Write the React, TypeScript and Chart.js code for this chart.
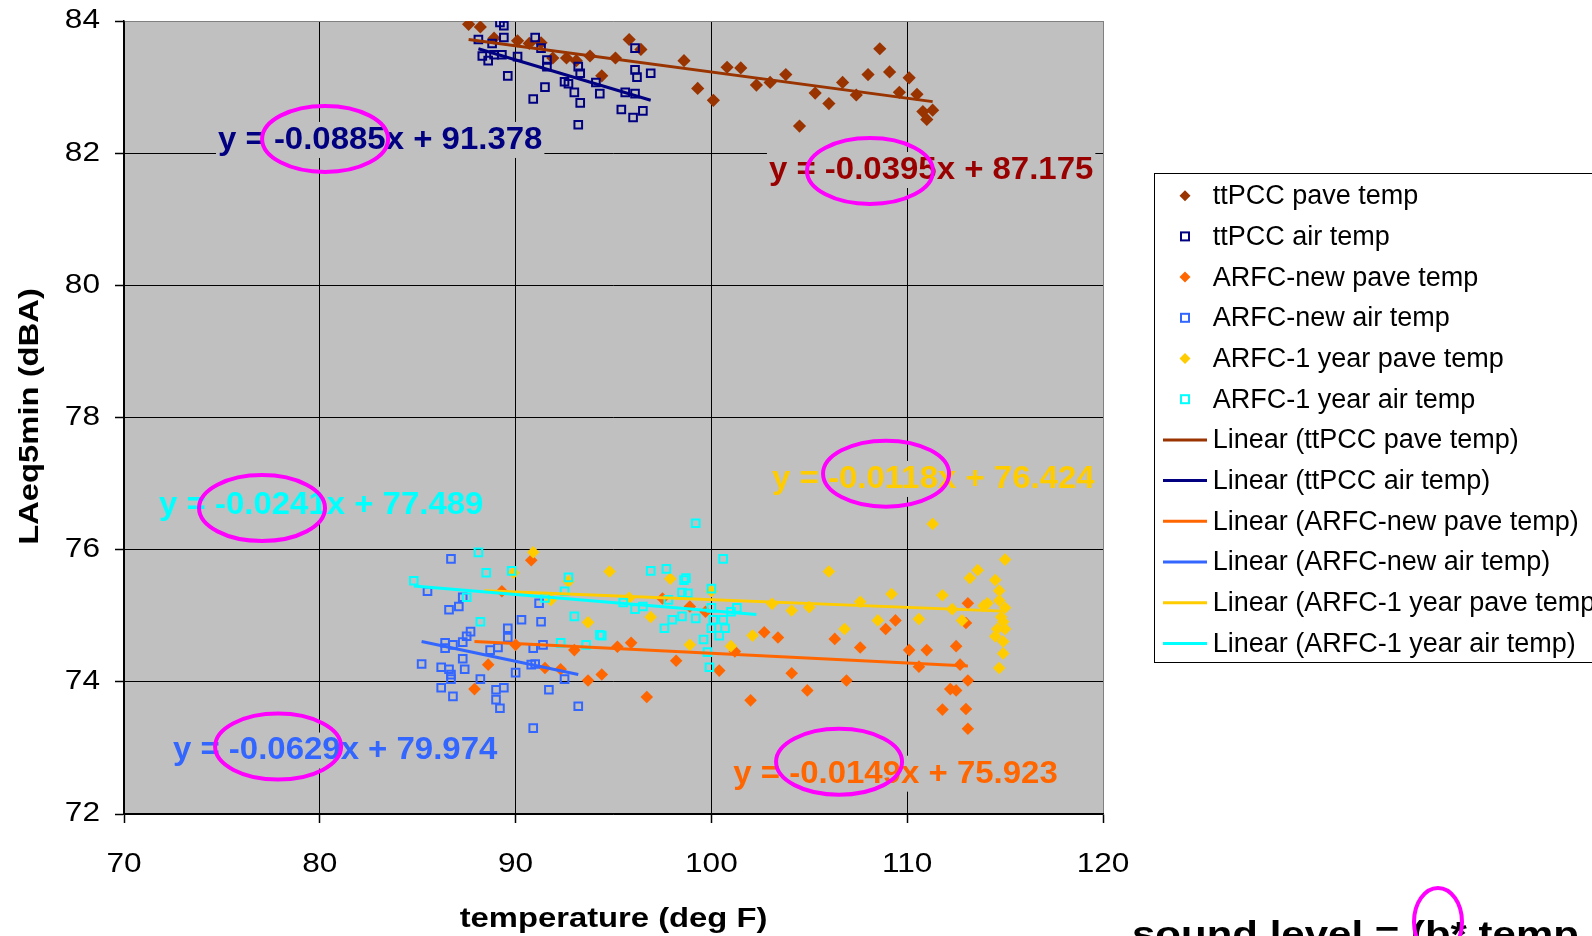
import React, { useEffect, useRef } from "react";
import { Chart, registerables } from "chart.js";

Chart.register(...registerables);

const FONT = '"Liberation Sans", Arial, Helvetica, sans-serif';

// ---------- data (temperature deg F, LAeq5min dBA) ----------
const ttPccPaveTemp = [87.6, 88.2, 88.9, 90.1, 90.7, 91.3, 91.9, 92.6, 93.1, 93.8, 94.4, 95.1, 95.8, 96.4, 98.6, 99.3, 100.1, 100.8, 101.5, 102.3, 103.0, 103.8, 104.5, 105.3, 106.0, 106.7, 107.4, 108.0, 108.6, 109.1, 109.6, 110.1, 110.5, 110.8, 111.0, 111.3];
const ttPccPaveLevel = [83.95, 83.91, 83.74, 83.70, 83.66, 83.67, 83.44, 83.44, 83.40, 83.47, 83.17, 83.44, 83.72, 83.57, 83.40, 82.98, 82.80, 83.30, 83.29, 83.03, 83.07, 83.19, 82.41, 82.91, 82.75, 83.07, 82.88, 83.19, 83.58, 83.23, 82.92, 83.14, 82.89, 82.63, 82.51, 82.65];

const ttPccAirTemp = [89.2, 89.4, 88.1, 89.4, 88.8, 88.3, 88.6, 88.9, 89.3, 89.6, 90.1, 91.0, 91.3, 91.6, 91.6, 91.5, 90.9, 92.5, 92.7, 93.2, 93.3, 93.0, 93.3, 93.2, 94.1, 94.3, 95.6, 96.1, 96.1, 96.2, 96.9, 96.1, 95.4, 96.0, 96.5];
const ttPccAirLevel = [83.98, 83.93, 83.72, 83.75, 83.66, 83.47, 83.40, 83.49, 83.49, 83.17, 83.46, 83.75, 83.59, 83.41, 83.31, 83.00, 82.82, 83.08, 83.05, 83.31, 83.21, 82.92, 82.76, 82.43, 83.07, 82.90, 82.92, 82.90, 83.26, 83.15, 83.21, 83.59, 82.66, 82.54, 82.64];

const arfcNewPaveTemp = [90.8, 89.3, 90.0, 88.6, 87.9, 91.5, 92.3, 93.0, 93.7, 94.4, 97.5, 98.9, 99.7, 95.2, 95.9, 101.2, 102.7, 103.4, 98.2, 100.4, 96.7, 102.0, 106.3, 108.9, 109.4, 107.6, 110.1, 111.0, 112.5, 110.6, 104.1, 106.9, 104.9, 112.2, 112.5, 111.8, 113.1, 113.0, 112.7, 113.1, 113.0, 113.1];
const arfcNewPaveLevel = [75.84, 75.37, 74.56, 74.26, 73.89, 74.21, 74.19, 74.48, 74.02, 74.11, 75.26, 75.14, 75.06, 74.53, 74.59, 74.46, 74.75, 74.67, 74.32, 74.17, 73.77, 73.72, 74.65, 74.80, 74.93, 74.52, 74.48, 74.48, 74.54, 74.23, 74.13, 74.02, 73.87, 73.89, 73.87, 73.58, 75.19, 74.89, 74.26, 74.02, 73.59, 73.29];

const arfcNewAirTemp = [86.7, 85.5, 87.3, 87.1, 86.6, 87.7, 87.5, 87.3, 86.4, 86.8, 86.4, 88.7, 89.1, 89.6, 89.6, 90.3, 91.3, 91.2, 90.9, 91.4, 87.3, 85.2, 86.2, 86.6, 87.4, 86.7, 86.7, 88.2, 90.0, 90.8, 91.0, 92.5, 86.2, 86.8, 89.0, 89.4, 89.0, 91.7, 93.2, 89.2, 90.9];
const arfcNewAirLevel = [75.86, 75.37, 75.28, 75.14, 75.09, 74.76, 74.69, 74.60, 74.59, 74.56, 74.51, 74.48, 74.52, 74.81, 74.67, 74.94, 74.91, 75.19, 74.51, 74.56, 74.35, 74.27, 74.22, 74.19, 74.19, 74.11, 74.04, 74.04, 74.14, 74.26, 74.27, 74.04, 73.91, 73.78, 73.88, 73.91, 73.73, 73.88, 73.63, 73.60, 73.30];

const arfc1PaveTemp = [90.9, 89.9, 92.7, 91.8, 93.7, 94.8, 97.9, 96.9, 98.9, 101.0, 102.1, 103.1, 100.0, 95.8, 111.3, 106.0, 104.1, 105.0, 107.6, 109.2, 111.8, 112.3, 108.5, 110.6, 106.8, 115.0, 113.6, 113.2, 114.5, 114.7, 114.7, 114.1, 113.9, 115.0, 114.8, 112.8, 114.9, 115.0, 114.6, 114.5, 114.9, 114.9, 114.7];
const arfc1PaveLevel = [75.96, 75.65, 75.52, 75.24, 74.90, 75.67, 75.56, 74.98, 74.56, 74.54, 74.70, 75.18, 75.37, 75.27, 76.39, 75.67, 75.08, 75.13, 75.21, 75.33, 75.31, 75.10, 74.93, 74.95, 74.80, 75.85, 75.69, 75.57, 75.54, 75.38, 75.23, 75.19, 75.15, 75.12, 74.98, 74.93, 74.91, 74.80, 74.80, 74.69, 74.61, 74.43, 74.21];

const arfc1AirTemp = [88.1, 88.5, 89.8, 84.8, 87.5, 88.2, 92.7, 92.5, 91.5, 93.0, 92.3, 93.6, 94.3, 99.2, 100.6, 96.9, 97.7, 98.7, 98.6, 98.5, 98.8, 100.0, 95.5, 96.1, 96.5, 98.0, 98.5, 99.2, 97.6, 100.0, 100.1, 100.6, 101.0, 101.3, 100.0, 100.7, 100.4, 99.6, 99.8, 99.9, 94.4, 97.8];
const arfc1AirLevel = [75.96, 75.65, 75.68, 75.53, 75.28, 74.91, 75.58, 75.37, 75.27, 74.99, 74.59, 74.56, 74.71, 76.40, 75.86, 75.68, 75.71, 75.57, 75.54, 75.35, 75.34, 75.41, 75.20, 75.10, 75.14, 74.94, 74.99, 74.96, 74.81, 75.12, 74.94, 74.94, 75.06, 75.12, 74.81, 74.81, 74.70, 74.64, 74.45, 74.22, 74.70, 75.24];

// linear trend lines (end points)
const ttPccPaveTrendTemp = [87.6, 111.3];
const ttPccPaveTrendLevel = [83.72, 82.78];
const ttPccAirTrendTemp = [88.1, 96.9];
const ttPccAirTrendLevel = [83.58, 82.8];
const arfcNewPaveTrendTemp = [87.9, 113.1];
const arfcNewPaveTrendLevel = [74.61, 74.24];
const arfcNewAirTrendTemp = [85.2, 93.2];
const arfcNewAirTrendLevel = [74.61, 74.11];
const arfc1PaveTrendTemp = [88.4, 114.9];
const arfc1PaveTrendLevel = [75.38, 75.07];
const arfc1AirTrendTemp = [84.8, 102.3];
const arfc1AirTrendLevel = [75.45, 75.02];

const seriesNames = [
  "ttPCC pave temp",
  "ttPCC air temp",
  "ARFC-new pave temp",
  "ARFC-new air temp",
  "ARFC-1 year pave temp",
  "ARFC-1 year air temp",
];

const equationTexts = [
  "y = -0.0395x + 87.175",
  "y = -0.0885x + 91.378",
  "y = -0.0149x + 75.923",
  "y = -0.0629x + 79.974",
  "y = -0.0118x + 76.424",
  "y = -0.0241x + 77.489",
];

const xTicks = [70, 80, 90, 100, 110, 120];
const yTicks = [72, 74, 76, 78, 80, 82, 84];
const xTitle = "temperature (deg F)";
const yTitle = "LAeq5min (dBA)";
const noteText = "sound level = (b* temp";

// ---------- styling ----------
const COLORS = ["#993300", "#000080", "#FF6600", "#3366FF", "#FFCC00", "#00FFFF"];
const EQ_COLORS = ["#990000", "#000080", "#FF6600", "#3366FF", "#FFCC00", "#00FFFF"];
const EQ_POS = [
  { x: 102.94, y: 81.745 },
  { x: 74.8, y: 82.2 },
  { x: 101.12, y: 72.61 },
  { x: 72.5, y: 72.96 },
  { x: 103.1, y: 77.07 },
  { x: 71.79, y: 76.68 },
];
const ELLIPSES = [
  { x: 108.1, y: 81.73 },
  { x: 80.27, y: 82.215 },
  { x: 106.52, y: 72.79 },
  { x: 77.87, y: 73.02 },
  { x: 108.92, y: 77.15 },
  { x: 77.05, y: 76.63 },
];
const AXIS_STRETCH = 1.17;

const pts = (xs: number[], ys: number[]) => xs.map((x, i) => ({ x, y: ys[i] }));

const scatterData = [
  pts(ttPccPaveTemp, ttPccPaveLevel),
  pts(ttPccAirTemp, ttPccAirLevel),
  pts(arfcNewPaveTemp, arfcNewPaveLevel),
  pts(arfcNewAirTemp, arfcNewAirLevel),
  pts(arfc1PaveTemp, arfc1PaveLevel),
  pts(arfc1AirTemp, arfc1AirLevel),
];
const trendData = [
  pts(ttPccPaveTrendTemp, ttPccPaveTrendLevel),
  pts(ttPccAirTrendTemp, ttPccAirTrendLevel),
  pts(arfcNewPaveTrendTemp, arfcNewPaveTrendLevel),
  pts(arfcNewAirTrendTemp, arfcNewAirTrendLevel),
  pts(arfc1PaveTrendTemp, arfc1PaveTrendLevel),
  pts(arfc1AirTrendTemp, arfc1AirTrendLevel),
];

const isDiamond = (i: number) => i % 2 === 0;

const datasets: any[] = [
  ...scatterData.map((d, i) => ({
    label: seriesNames[i],
    data: d,
    showLine: false,
    pointStyle: isDiamond(i) ? "rectRot" : "rect",
    pointRadius: isDiamond(i) ? (i === 0 ? 6.6 : 6.3) : 5.4,
    pointBorderWidth: isDiamond(i) ? 0 : 2,
    pointBackgroundColor: isDiamond(i) ? COLORS[i] : "rgba(0,0,0,0)",
    pointBorderColor: COLORS[i],
    order: 20 - i,
    isTrend: false,
  })),
  ...trendData.map((d, i) => ({
    label: "Linear (" + seriesNames[i] + ")",
    data: d,
    showLine: true,
    fill: false,
    borderColor: COLORS[i],
    borderWidth: 3,
    pointRadius: 0,
    order: 10 - i,
    isTrend: true,
  })),
];

function stretchedText(ctx: any, text: string, x: number, y: number, font: string, sx: number, align: string, rot = 0) {
  ctx.save();
  ctx.translate(x, y);
  if (rot) ctx.rotate(rot);
  ctx.scale(sx, 1);
  ctx.font = font;
  ctx.textAlign = align;
  ctx.textBaseline = "middle";
  ctx.fillStyle = "#000";
  ctx.fillText(text, 0, 0);
  ctx.restore();
}

const decorPlugin = {
  id: "decor",
  beforeDraw(chart: any) {
    const { ctx, chartArea: a } = chart;
    ctx.save();
    ctx.fillStyle = "#C0C0C0";
    ctx.fillRect(a.left, a.top, a.right - a.left, a.bottom - a.top);
    ctx.restore();
  },
  afterDraw(chart: any) {
    const { ctx, scales, chartArea: a } = chart;
    const xs = scales.x;
    const ys = scales.y;

    // axis tick labels and titles
    const tickFont = `27px ${FONT}`;
    yTicks.forEach((v) => stretchedText(ctx, String(v), 100, ys.getPixelForValue(v), tickFont, AXIS_STRETCH, "right"));
    xTicks.forEach((v) => stretchedText(ctx, String(v), xs.getPixelForValue(v), 865, tickFont, AXIS_STRETCH, "center"));
    const titleFont = `bold 28px ${FONT}`;
    stretchedText(ctx, xTitle, (a.left + a.right) / 2, 919, titleFont, AXIS_STRETCH, "center");
    stretchedText(ctx, yTitle, 30, (a.top + a.bottom) / 2 - 1, titleFont, AXIS_STRETCH, "center", -Math.PI / 2);

    // trend-line equations
    ctx.save();
    ctx.font = `bold 32px ${FONT}`;
    ctx.textBaseline = "middle";
    ctx.textAlign = "left";
    equationTexts.forEach((t, i) => {
      const px = xs.getPixelForValue(EQ_POS[i].x);
      const py = ys.getPixelForValue(EQ_POS[i].y);
      const w = ctx.measureText(t).width * 1.03;
      ctx.fillStyle = "#C0C0C0";
      ctx.fillRect(px - 2, py - 18, w + 4, 36);
      ctx.save();
      ctx.translate(px, py);
      ctx.scale(1.03, 1);
      ctx.fillStyle = EQ_COLORS[i];
      ctx.fillText(t, 0, 0);
      ctx.restore();
    });
    // magenta ellipses
    ctx.strokeStyle = "#FF00FF";
    ctx.lineWidth = 4;
    ELLIPSES.forEach((e) => {
      ctx.beginPath();
      ctx.ellipse(xs.getPixelForValue(e.x), ys.getPixelForValue(e.y), 63, 33, 0, 0, Math.PI * 2);
      ctx.stroke();
    });
    ctx.restore();

    // legend
    ctx.save();
    const L = 1154, T = 173, B = 662;
    ctx.fillStyle = "#FFFFFF";
    ctx.fillRect(L, T, 1592 - L, B - T);
    ctx.strokeStyle = "#000";
    ctx.lineWidth = 1;
    ctx.strokeRect(L + 0.5, T + 0.5, 1600 - L, B - T);
    ctx.font = `27px ${FONT}`;
    ctx.textBaseline = "middle";
    ctx.textAlign = "left";
    chart.data.datasets.forEach((ds: any, i: number) => {
      const cy = 195.7 + 40.7 * i;
      if (ds.isTrend) {
        ctx.strokeStyle = ds.borderColor;
        ctx.lineWidth = 3;
        ctx.beginPath();
        ctx.moveTo(1163, cy);
        ctx.lineTo(1207, cy);
        ctx.stroke();
      } else if (ds.pointStyle === "rectRot") {
        ctx.fillStyle = ds.pointBackgroundColor;
        ctx.beginPath();
        ctx.moveTo(1185, cy - 5.5);
        ctx.lineTo(1190.5, cy);
        ctx.lineTo(1185, cy + 5.5);
        ctx.lineTo(1179.5, cy);
        ctx.closePath();
        ctx.fill();
      } else {
        ctx.strokeStyle = ds.pointBorderColor;
        ctx.lineWidth = 2;
        ctx.strokeRect(1181, cy - 4, 8, 8);
      }
      ctx.fillStyle = "#000";
      ctx.fillText(ds.label, 1212.7, cy + 1);
    });
    ctx.restore();

    // formula note at the bottom right
    ctx.save();
    ctx.translate(1132, 946);
    ctx.scale(1.2, 1);
    ctx.font = `bold 35px ${FONT}`;
    ctx.fillStyle = "#000";
    ctx.textBaseline = "alphabetic";
    ctx.fillText(noteText, 0, 0);
    ctx.restore();
    ctx.save();
    ctx.strokeStyle = "#FF00FF";
    ctx.lineWidth = 4;
    ctx.beginPath();
    ctx.ellipse(1438, 922, 24, 34, 0, 0, Math.PI * 2);
    ctx.stroke();
    ctx.restore();
  },
};

export default function App() {
  const ref = useRef<HTMLCanvasElement>(null);
  useEffect(() => {
    if (!ref.current) return;
    const edgeColor = (v: number, edge: number) => (v === edge ? "#808080" : "#000000");
    const chart = new Chart(ref.current, {
      type: "scatter",
      data: { datasets },
      options: {
        animation: false,
        responsive: false,
        events: [],
        layout: { padding: { left: 0, right: 489, top: 21, bottom: 0 } },
        plugins: { legend: { display: false }, tooltip: { enabled: false } },
        scales: {
          x: {
            type: "linear",
            min: xTicks[0],
            max: xTicks[xTicks.length - 1],
            afterBuildTicks: (s: any) => {
              s.ticks = xTicks.map((v) => ({ value: v }));
            },
            afterFit: (s: any) => {
              s.height = 122;
            },
            ticks: { display: false },
            grid: {
              color: (c: any) => edgeColor(c.tick ? c.tick.value : 0, 120),
              lineWidth: 1,
              tickLength: 9,
              tickColor: "#000",
              tickWidth: 1.5,
            },
            border: { color: "#000", width: 1.5 },
            title: { display: false },
          },
          y: {
            type: "linear",
            min: yTicks[0],
            max: yTicks[yTicks.length - 1],
            afterBuildTicks: (s: any) => {
              s.ticks = yTicks.map((v) => ({ value: v }));
            },
            afterFit: (s: any) => {
              s.width = 124;
            },
            ticks: { display: false },
            grid: {
              color: (c: any) => edgeColor(c.tick ? c.tick.value : 0, 84),
              lineWidth: 1,
              tickLength: 9,
              tickColor: "#000",
              tickWidth: 1.5,
            },
            border: { color: "#000", width: 1.5 },
            title: { display: false },
          },
        },
      },
      plugins: [decorPlugin],
    } as any);
    return () => chart.destroy();
  }, []);
  return (
    <div style={{ position: "absolute", left: 0, top: 0, width: 1592, height: 936, background: "#fff", overflow: "hidden" }}>
      <canvas ref={ref} width={1592} height={936} style={{ display: "block", width: 1592, height: 936 }} />
    </div>
  );
}
